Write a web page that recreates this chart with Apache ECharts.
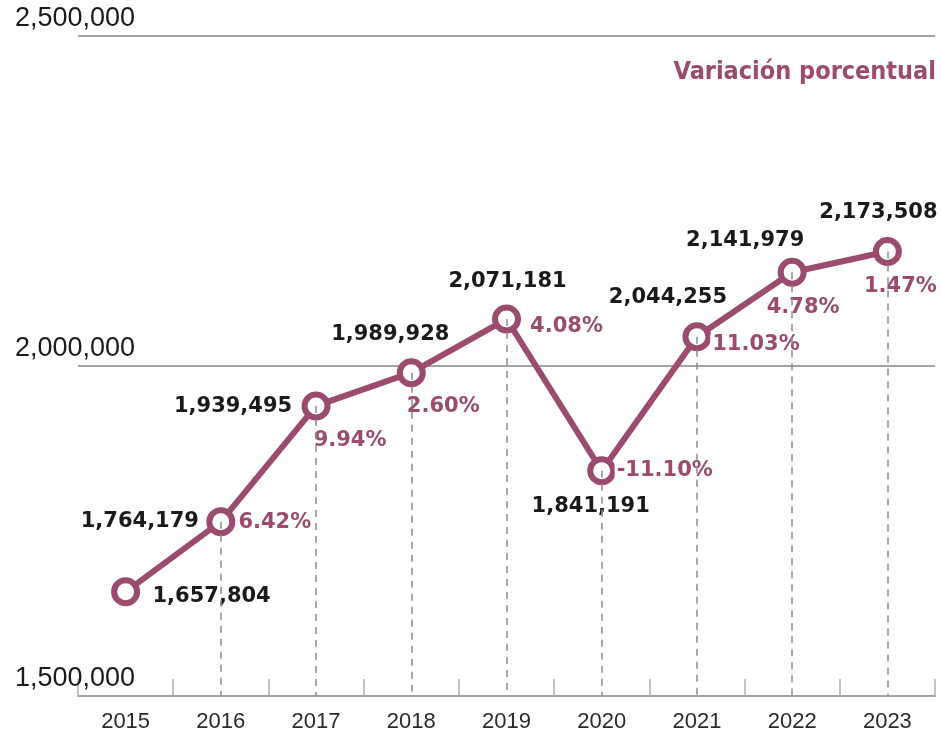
<!DOCTYPE html>
<html>
<head>
<meta charset="utf-8">
<script src="https://cdn.jsdelivr.net/npm/echarts@6/dist/echarts.min.js"></script>
<style>
  html, body { margin: 0; padding: 0; background: #fff; }
  #chart { width: 941px; height: 733px; }
</style>
</head>
<body>
<div id="chart"></div>
<script>
const years = ["2015", "2016", "2017", "2018", "2019", "2020", "2021", "2022", "2023"];
const totals = [1657804, 1764179, 1939495, 1989928, 2071181, 1841191, 2044255, 2141979, 2173508];
const pctChange = [null, 6.42, 9.94, 2.60, 4.08, -11.10, 11.03, 4.78, 1.47];
const yTicks = [1500000, 2000000, 2500000];

// label offsets (px from the point centre)
const valueOffsets = [[86, 5], [-81, 0], [-83, 1], [-21, -38], [1, -37], [-11, 36], [-29, -39], [-47, -32], [-9, -39]];
const pctOffsets = [[0, 0], [54, 1], [34, 35], [32, 34], [60, 8], [63, 0], [59, 8], [11, 35], [13, 35]];

const mauve = '#9b4b6e';
const boldFont = 'DejaVu Sans';

const fmt = v => v.toLocaleString('en-US');

const chart = echarts.init(document.getElementById('chart'));

chart.setOption({
  animation: false,
  title: {
    text: 'Variación porcentual',
    right: 0,
    top: 55,
    textStyle: {
      color: mauve,
      fontFamily: 'DejaVu Sans Condensed',
      fontWeight: 'bold',
      fontSize: 25
    }
  },
  grid: { left: 78, right: 6, top: 36, bottom: 35 },
  xAxis: {
    type: 'category',
    data: years,
    boundaryGap: true,
    axisLine: { lineStyle: { color: '#a3a3a3', width: 2 } },
    axisTick: { show: true, inside: true, length: 17, lineStyle: { color: '#b0b0b0', width: 1.5 } },
    axisLabel: { margin: 15, fontSize: 22, color: '#2a2a2a', fontFamily: 'Liberation Sans' }
  },
  yAxis: {
    type: 'value',
    min: yTicks[0],
    max: yTicks[yTicks.length - 1],
    interval: yTicks[1] - yTicks[0],
    axisLine: { show: false },
    axisTick: { show: false },
    splitLine: { lineStyle: { color: '#a3a3a3', width: 2 } },
    axisLabel: {
      formatter: fmt,
      align: 'left',
      verticalAlign: 'bottom',
      margin: 63,
      padding: [0, 0, 4, 0],
      fontSize: 27,
      color: '#1a1a1a',
      fontFamily: 'Liberation Sans'
    }
  },
  series: [
    {
      // dashed drop lines
      type: 'line',
      data: [],
      z: 1,
      silent: true,
      markLine: {
        silent: true,
        symbol: 'none',
        label: { show: false },
        lineStyle: { type: [7, 6], color: '#8c8c8c', width: 1.5 },
        data: totals.map((v, i) => i === 0 ? null : [
          { coord: [i, v] },
          { coord: [i, yTicks[0]] }
        ]).filter(d => d)
      }
    },
    {
      type: 'line',
      data: totals,
      z: 3,
      symbol: 'circle',
      symbolSize: 23,
      lineStyle: { color: mauve, width: 6 },
      itemStyle: { color: '#fff', borderColor: mauve, borderWidth: 6 },
      label: {
        show: true,
        position: 'inside',
        formatter: p => fmt(p.value),
        color: '#1a1a1a',
        fontFamily: boldFont,
        fontWeight: 'bold',
        fontSize: 21,
        textBorderWidth: 0
      },
      labelLayout: p => ({
        dx: valueOffsets[p.dataIndex][0],
        dy: valueOffsets[p.dataIndex][1]
      })
    },
    {
      type: 'scatter',
      data: totals.map((v, i) => pctChange[i] === null ? null : [i, v]),
      z: 4,
      symbolSize: 1,
      itemStyle: { color: 'rgba(0,0,0,0)', opacity: 1 },
      label: {
        show: true,
        position: 'inside',
        formatter: p => pctChange[p.dataIndex].toFixed(2) + '%',
        color: mauve,
        opacity: 1,
        fontFamily: boldFont,
        fontWeight: 'bold',
        fontSize: 21,
        textBorderWidth: 0,
        backgroundColor: '#fff',
        padding: [0, 2]
      },
      labelLayout: p => ({
        dx: pctOffsets[p.dataIndex][0],
        dy: pctOffsets[p.dataIndex][1]
      })
    }
  ]
});
</script>
</body>
</html>
